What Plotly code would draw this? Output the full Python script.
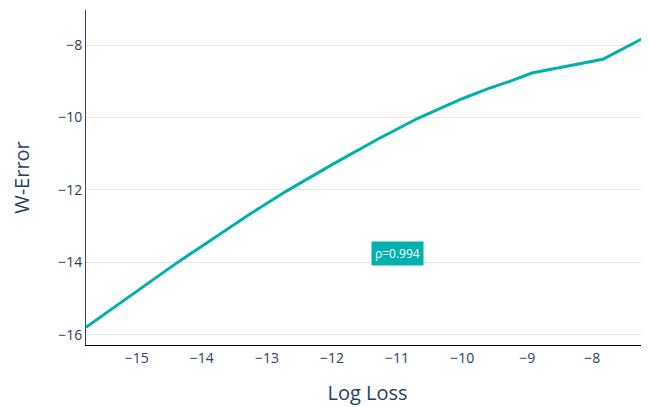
import plotly.graph_objects as go

log_loss = [-15.78, -15.0, -14.39, -14.0, -13.3, -12.7, -12.0, -11.3, -10.68, -10.0, -9.6, -9.27, -8.93, -7.84, -7.22, -7.13]
w_error = [-15.79, -14.79, -14.02, -13.55, -12.71, -12.03, -11.30, -10.60, -10.02, -9.48, -9.20, -9.00, -8.77, -8.39, -7.81, -7.59]
rho_label = "ρ=0.994"
teal = "#00b0ad"

fig = go.Figure()
fig.add_trace(go.Scatter(x=log_loss, y=w_error, mode="lines",
                         line=dict(color=teal, width=3), showlegend=False))
fig.add_annotation(x=-11.0, y=-13.75, xref="x", yref="y", text=rho_label,
                   showarrow=False, bgcolor=teal, font=dict(color="white", size=12,
                   family="Open Sans"), borderpad=3)
fig.update_layout(
    width=641, height=407, template="plotly_white",
    margin=dict(l=78, r=0, t=2, b=70, autoexpand=False),
    plot_bgcolor="white", paper_bgcolor="white",
    font=dict(family="Open Sans", color="#2a3f5f"),
    xaxis=dict(title=dict(text="Log Loss", font=dict(size=20), standoff=20), range=[-15.78, -7.13],
               showgrid=False, showline=True, linecolor="black", linewidth=1,
               zeroline=False, tickfont=dict(size=14), dtick=1, automargin=False),
    yaxis=dict(title=dict(text="W-Error", font=dict(size=20), standoff=27), range=[-16.28, -7.03],
               showgrid=True, gridcolor="#e6e6e6", showline=True, linecolor="#444",
               linewidth=1, zeroline=False, tickfont=dict(size=14), dtick=2, automargin=False),
)
fig.write_html("out.html")
